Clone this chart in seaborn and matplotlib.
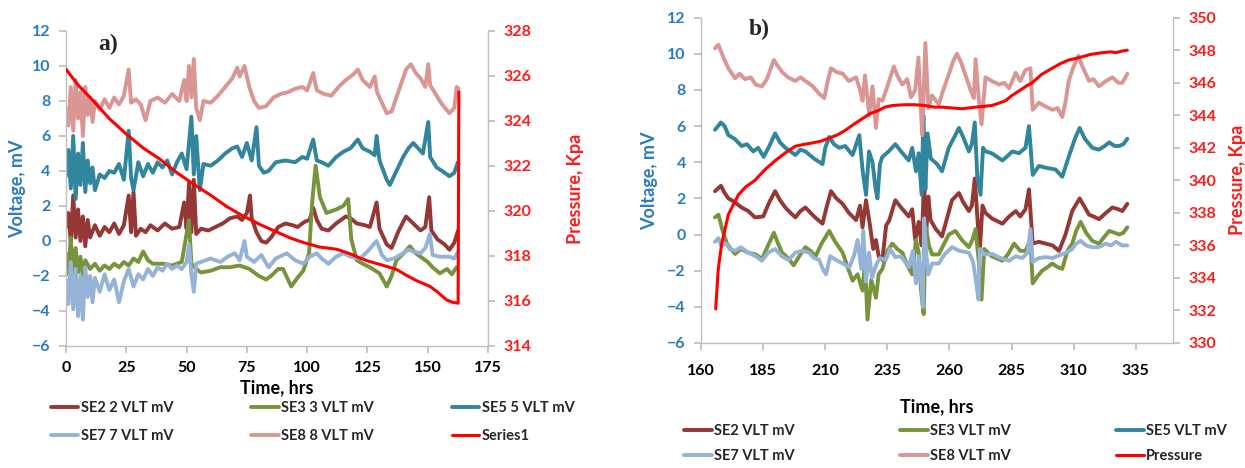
import numpy as np
import pandas as pd
import seaborn as sns
import matplotlib
matplotlib.use("Agg")
import matplotlib.pyplot as plt

# ---------------- Panel a) data ----------------
a_se8_t = [0,1,2,3,4,5,6,7,8,9,10,11,12,14,16,18,20,22,24,26,27,29,31,33,35,38,41,44,47,49,50,51,52,53,54,55.5,57,60,63,66,69,71,72,74,76,78,80,83,86,89,92,95,98,100,102.5,104,107,110,113,116,119,121,123,126,128,129,131,133,135,138,141,143,145,147,149,150.2,151,153.7,156,159,161,162,162.8]
a_se8_v = [7.6,6.6,8.8,6.3,9.2,7.0,8.5,6.0,8.8,7.2,8.2,6.8,8.0,7.5,8.1,7.6,8.2,7.8,8.3,9.8,7.9,8.1,7.8,6.9,8.0,8.2,7.9,8.4,8.0,9.2,8.0,10.0,8.2,10.4,7.6,6.9,8.0,7.9,8.3,8.8,9.3,9.9,9.4,10.0,8.8,8.0,7.6,7.7,8.2,8.4,8.5,8.7,8.8,8.6,9.6,8.6,8.4,8.3,8.8,9.2,9.5,9.8,9.2,8.8,9.4,8.5,7.9,7.3,7.4,8.6,9.8,10.1,9.6,9.3,8.8,10.1,8.9,8.3,7.8,7.3,7.6,8.8,8.7]

a_se5_t = [0,1,2,3,4,5,6,7,8,9,10,11,12,14,16,18,20,22,24,26,27,28,30,32,34,36,38,40,42,44,46,48,50,52,53,54,55.5,57,60,63,66,69,71,73,75,77,79,80,82,84,87,91,95,98,100,102.5,104,106,108.8,112,115,118,121,123,126,128,128.8,130,133,134.3,137,139.8,142,144,146,148,150.2,151,153.7,156,159,161,162.5,162.8]
a_se5_v = [3.7,5.2,3.0,6.0,2.4,5.0,3.2,5.6,2.8,4.6,3.3,4.2,2.9,3.8,3.6,4.0,3.9,4.4,3.5,6.3,3.6,2.9,4.5,3.7,4.4,3.9,4.5,4.2,4.6,3.8,4.5,5.0,4.1,7.1,3.8,6.0,2.9,4.4,4.3,4.6,5.0,5.3,5.4,4.8,5.6,4.6,6.5,4.3,3.9,4.0,4.5,4.6,4.5,4.8,4.7,5.8,4.6,4.5,4.3,4.8,5.1,5.3,5.8,5.3,5.1,4.9,6.0,4.6,3.5,3.2,4.0,4.8,5.3,5.6,5.3,5.0,6.8,4.8,4.2,4.0,3.7,3.9,4.5,4.4]

a_se2_t = [0,1,2,3,4,5,6,7,8,9,10,12,14,16,18,20,22,24,26,27,28,29,31,33,35,38,41,44,47,49,50,51,52,53,54,56,59,62,65,68,71,73,75,76.3,77,79,81,83,85,88,91,94,96,99,101,102.5,104,106,108.8,112,116,118,120.6,124,126,128.8,130,133,135,138,141,144,147,149,150.6,151.5,154,157,159,161,162.6]
a_se2_v = [0.8,1.6,-0.1,2.6,0.2,1.8,0.0,1.4,-0.3,1.2,0.2,0.9,0.3,0.8,0.5,1.0,0.4,0.9,2.6,0.5,2.8,0.3,0.7,0.5,0.9,0.6,1.0,0.7,0.8,2.2,0.7,3.3,0.5,3.5,0.4,0.7,0.6,0.8,1.0,1.3,1.4,1.2,1.6,2.6,1.3,0.5,0.0,-0.1,0.2,0.8,1.0,0.9,0.8,1.1,1.2,1.9,1.2,0.7,0.6,1.0,1.4,1.3,1.0,0.9,0.8,2.2,0.7,-0.2,-0.4,0.6,1.4,1.0,0.6,0.8,2.5,0.6,0.1,-0.2,-0.5,-0.1,0.6]

a_se3_t = [0,1,2,3,4,5,6,7,8,10,12,14,16,18,20,22,24,26,28,30,32,34,36,40,44,48,51,52,54,56,60,64,68,72,76,78,80,83,85,88,90,93.4,96,98.4,100.8,102,103.5,105.3,108,112,115,117,118.3,120.6,123,126,130,133,135,137,140,142.6,145,148,150,152,155,158,160,162]
a_se3_v = [-0.7,-1.9,0.2,-2.2,-0.4,-1.8,-0.9,-2.0,-1.1,-1.6,-1.3,-1.7,-1.4,-1.6,-1.3,-1.5,-1.2,-1.4,-1.0,-1.2,-0.6,-1.1,-1.3,-1.3,-1.4,-1.2,1.2,-1.3,-1.6,-1.8,-1.7,-1.5,-1.5,-1.4,-1.6,-1.8,-2.0,-2.2,-2.0,-1.6,-1.6,-2.6,-2.1,-1.7,-0.7,2.1,4.3,2.5,1.6,1.8,2.0,2.4,0.1,-1.1,-1.3,-1.5,-1.85,-2.6,-2.0,-1.1,-0.7,-0.3,-0.7,-1.0,-1.2,-1.5,-1.85,-1.6,-1.9,-1.5]

a_se7_t = [0,1,2,3,4,5,6,7,8,9,10,11,12,14,16,18,20,22,24,26,28,30,32,34,36,38,40,42,44,46,48,50,51,52,53,54,56,60,64,67,70,72,74,75,78,81,84,87,91.5,95,98.4,101,104,106,108.8,112,115,118,122,125,128.8,131,133,136,139.8,142,144,147,149,150.9,152,155,159,161,162.6]
a_se7_v = [-2.2,-3.6,-1.2,-3.9,-1.6,-4.3,-2.0,-4.5,-1.5,-3.2,-2.0,-3.5,-2.1,-2.9,-1.9,-2.8,-2.2,-3.5,-2.3,-1.6,-2.6,-1.9,-2.2,-1.6,-2.0,-1.5,-1.7,-1.3,-1.6,-1.4,-1.6,-1.2,-0.2,-1.9,-2.9,-1.3,-1.2,-1.0,-1.2,-0.9,-0.7,-1.1,0.0,-0.9,-1.2,-0.8,-1.5,-1.0,-0.7,-1.1,-1.3,-0.9,-0.7,-1.0,-1.3,-0.9,-0.7,-0.9,-1.0,-0.6,0.0,-0.8,-1.1,-1.0,-0.7,-0.5,-0.6,-0.7,-0.4,0.4,-0.8,-0.9,-0.9,-1.0,-0.6]

a_p_t = [0,5,11.3,18,25.2,32,39,46,52.8,60,66.6,73,80.4,84.6,88.8,93,98.4,105,112.2,115,117.8,122,126,131,137.1,141,145.4,150.9,154,157.8,160,162.6,162.9]
a_p_v = [326.3,325.6,324.9,324.1,323.4,322.8,322.3,321.7,321.2,320.7,320.2,319.8,319.4,319.2,319.0,318.8,318.6,318.4,318.3,318.2,318.1,317.9,317.75,317.6,317.4,317.15,316.9,316.65,316.4,316.05,315.95,315.9,325.3]

# ---------------- Panel b) data ----------------
b_se8_t = [165.6,167,169,171,173.7,175.5,177.7,180,182,184.5,186.5,189.3,191,192.6,195,198,200,202,205,207.5,209.6,211,212.3,214.5,217,219.5,222.4,224,225,226,227.7,229,230.4,231.5,233,235,237.6,239,241,243,244.5,246.2,247.5,249,250.3,251.5,253,255.7,257.5,259.7,261.5,263,264.5,266.5,268.5,269.8,270.5,271.8,272.9,274.5,277,280,282,284,286.7,288.5,290.6,292.6,293.5,296,298.5,301.4,303.5,305.4,306.8,308,310,311.9,313.5,316.2,318,320.2,323,325.6,328,329.6,331.6]
b_se8_v = [10.3,10.5,9.8,9.2,8.65,8.9,8.6,8.7,8.3,8.2,8.6,9.66,9.3,9.0,8.7,8.5,8.7,8.5,8.2,7.8,7.55,8.5,9.2,9.0,8.9,8.5,8.7,8.0,7.4,8.8,6.6,8.2,5.9,7.5,7.4,8.2,9.3,8.8,8.3,8.6,7.6,8.0,9.8,5.5,10.6,7.0,7.7,7.2,8.0,8.85,9.6,10.0,9.6,8.8,8.0,7.55,9.7,7.5,6.1,8.7,8.5,8.3,8.4,8.1,8.95,8.5,9.1,9.2,6.9,7.3,7.1,6.9,7.0,6.5,7.4,8.5,9.3,9.9,9.3,8.5,8.6,8.2,8.5,8.7,8.4,8.4,8.9]

b_se5_t = [165.6,168,169.5,171,173.5,176.3,178.5,181,183,185.2,187.5,189.8,191.8,193.9,196,198,200,202,205.5,208.9,210,211.6,213.5,215.6,218,221,223.7,225,226.4,227.6,229,230.2,231,232,233,235.5,238.2,240.5,243.6,245,246.5,247.6,248.8,249.5,250.3,251.2,252.5,255,257,259.7,262,263.8,265.5,267.8,269,270.2,271.2,272.5,273.5,274.5,277,281.3,283,285.3,288,290.6,292,293.5,296,298.7,302.7,305.4,308,310.5,312.4,314.5,317.5,320.2,322.5,324.3,326.5,328.3,330,331.6]
b_se5_v = [5.8,6.2,6.0,5.5,5.3,4.9,5.0,4.6,4.8,4.3,4.9,5.6,5.1,4.8,4.6,4.4,4.7,4.6,4.2,3.9,4.8,5.4,5.0,4.8,4.9,4.4,5.5,3.6,2.2,4.6,4.0,2.6,2.0,3.9,4.3,4.6,5.0,4.6,4.1,4.8,3.5,4.5,2.2,6.6,2.5,5.6,4.2,3.9,3.5,4.8,5.4,5.9,5.4,4.6,5.0,6.2,3.2,2.2,4.8,4.6,4.5,4.1,4.3,4.6,4.5,4.8,6.0,3.3,3.8,3.7,3.6,3.2,4.3,5.3,5.9,5.3,4.8,4.7,4.9,5.1,4.9,4.9,5.0,5.3]

b_se2_t = [165.6,168,169.5,171,173.5,176.3,179,181.7,185,187.5,189.8,191.8,193.9,196,198,200,202,205.5,208.9,210.5,212.3,214.5,217,219.5,222.4,224,225,226.4,228,229.3,230.4,231.5,233,234.5,235.8,238.2,240.5,243.6,245,246.2,247.6,248.8,249.8,250.5,251.5,252.4,254.5,257,259,261,263.8,265.5,267.8,269,270.2,271.3,272.2,273.3,274.5,277,281.3,284,286.7,288.5,290.6,292,293.5,296,298.7,301.5,304.1,306.7,309.4,312.4,314.5,316.2,318,320.2,323,325.6,328,329.6,331.6]
b_se2_v = [2.4,2.7,2.3,2.0,1.8,1.5,1.3,0.95,1.0,1.8,2.4,1.9,1.5,1.2,0.95,1.3,1.5,1.0,0.6,1.5,2.4,2.0,1.7,1.2,0.8,1.6,0.4,1.9,0.5,-0.8,-0.3,-1.2,-1.4,0.5,0.8,1.9,1.5,1.0,1.4,-0.3,0.7,-0.6,3.1,-0.3,2.1,0.8,0.3,-0.1,0.9,1.9,2.3,1.8,1.3,1.6,3.1,0.8,-0.9,1.6,1.2,0.9,0.6,1.0,1.3,1.0,1.4,2.5,-0.5,-0.4,-0.5,-0.6,-0.9,0.0,1.3,2.0,1.5,1.1,1.0,0.85,1.2,1.5,1.4,1.3,1.7]

b_se3_t = [165.6,167,168.5,170.4,172,173.7,176,179,182,184.5,187,189.3,191,192.6,195,197.3,199.5,202,204,206.1,208.5,211.6,214,217,219,221,223,225,226,227,228.5,230.4,231.5,233,235,237,239,241,243,245,246.5,247.6,248.5,249.6,250.5,251.7,253,255.7,257.5,259.7,262.4,265,267.8,269.2,270.5,271.8,272.9,274,277,281.3,283.5,286,288.5,290.6,292.6,293.5,295.5,297.3,299.5,301.4,303.5,305.4,307.5,309.4,311,312.8,315,317.5,320.2,322.5,324.3,326.5,328.3,330,331.6]
b_se3_v = [0.95,1.1,0.3,-0.5,-0.8,-1.07,-0.8,-1.0,-1.1,-1.35,-0.6,0.1,-0.5,-1.0,-1.3,-1.7,-1.2,-0.7,-0.9,-1.2,-0.5,0.2,-0.4,-1.0,-1.8,-2.55,-2.2,-3.1,-1.5,-4.7,-2.5,-3.5,-2.2,-1.9,-0.9,-0.5,-0.8,-1.0,-1.7,-2.2,-0.3,-1.0,-3.0,-4.4,0.4,-0.6,-1.1,-1.1,-0.6,0.0,0.2,-0.3,-0.7,-0.3,0.3,-1.5,-3.6,-0.8,-1.2,-1.45,-1.1,-0.5,-0.9,-0.9,-0.3,-2.7,-2.3,-2.0,-1.8,-1.6,-1.8,-1.9,-0.9,-0.5,0.2,0.7,0.1,-0.35,-0.5,-0.1,0.2,0.1,0.0,0.1,0.4]

b_se7_t = [165.6,167,168,170,171.5,173.7,176,179,182,184.5,187,189.8,192.5,195.2,198,200.6,203.5,205.5,207.5,209,210.3,212,214.3,217,219.7,221.5,223,224.5,225.3,226.4,227.6,228.8,230.4,232,234.4,236,238.2,240.5,243.6,245.3,246.5,247.6,248.5,249.3,249.8,250.6,251.5,253,255.7,258,261,264,267.8,269.5,271,271.7,272.2,274,277.2,280.5,284,286.7,289.3,291.5,292.6,293.5,296,298.7,301.5,304.1,307,309.4,311,312.8,315,317.5,320,322.9,325,327,329.5,331.6]
b_se7_v = [-0.4,-0.2,-0.6,-0.5,-0.8,-0.9,-0.7,-1.0,-1.2,-1.45,-1.0,-0.8,-1.2,-1.4,-1.0,-0.9,-1.0,-1.3,-1.4,-1.9,-2.2,-1.2,-1.4,-1.6,-1.8,-1.2,-0.3,-1.9,0.2,-2.6,-1.0,-2.4,-1.7,-1.3,-1.4,-0.8,-1.25,-1.2,-1.8,-0.9,-2.7,-1.2,-2.3,-4.0,0.9,-1.0,-2.2,-1.6,-1.6,-1.1,-0.7,-0.9,-1.0,-1.5,-2.9,-3.6,-0.8,-1.1,-1.07,-1.3,-1.45,-1.2,-1.3,-1.0,0.3,-1.5,-1.3,-1.25,-1.3,-1.15,-1.0,-0.8,-0.5,-0.35,-0.6,-0.7,-0.7,-0.5,-0.6,-0.4,-0.6,-0.6]

b_p_t = [165.9,166.9,168.3,171,175,178,181.7,186,189.8,194,198,201,204.8,208,211.6,215,218.3,222,225,228,231.5,234,237,242,246,250,254,257,261,265,270.5,274,277,280,282.6,285,288,291,293.3,297,301.4,305,308,311,313.5,317,321.6,325,327,329.5,331.6]
b_p_v = [332.1,334.5,336.1,337.9,339.1,339.6,340.0,340.7,341.2,341.7,342.1,342.2,342.3,342.4,342.6,342.8,343.1,343.5,343.8,344.1,344.3,344.5,344.6,344.65,344.65,344.6,344.5,344.5,344.45,344.4,344.5,344.55,344.6,344.75,344.9,345.2,345.5,345.8,346.0,346.5,346.9,347.2,347.4,347.5,347.6,347.75,347.85,347.9,347.85,347.95,348.0]

a_labels = ["SE2 2 VLT mV", "SE3 3 VLT mV", "SE5 5 VLT mV", "SE7 7 VLT mV", "SE8 8 VLT mV", "Series1"]
b_labels = ["SE2 VLT mV", "SE3 VLT mV", "SE5 VLT mV", "SE7 VLT mV", "SE8 VLT mV", "Pressure"]
a_xticks = [0, 25, 50, 75, 100, 125, 150, 175]
b_xticks = [160, 185, 210, 235, 260, 285, 310, 335]

# ---------------- styling ----------------
sns.set_theme(style="white")
plt.rcParams['font.family'] = ['Lato', 'DejaVu Sans']
plt.rcParams['font.weight'] = 'bold'

C_SE2 = "#953735"
C_SE3 = "#77933C"
C_SE5 = "#31859C"
C_SE7 = "#95B3D7"
C_SE8 = "#D99694"
C_P = "#FF0000"
BLUE = "#2A7BC0"
RED = "#FF1A1A"
GRAY = "#BFBFBF"

fig = plt.figure(figsize=(12.45, 4.68), dpi=100)
axA = fig.add_axes([0.0530, 0.2607, 0.3390, 0.6731])
axB = fig.add_axes([0.5631, 0.2671, 0.3791, 0.6951])

LW = 2.8


def draw(ax, series, p_t, p_v, labels, xlim, xticks, ylim2, yticks2, vlab_x, plab_x,
         xlab_y, leg_box, lspace, xpad):
    handles = []
    for (t, v, c), lab in zip(series, labels[:5]):
        sns.lineplot(x=t, y=v, ax=ax, color=c, linewidth=LW, sort=False,
                     estimator=None, label=lab, legend=False)
        handles.append(ax.lines[-1])
    ax2 = ax.twinx()
    sns.lineplot(x=p_t, y=p_v, ax=ax2, color=C_P, linewidth=2.2, sort=False,
                 estimator=None, legend=False)
    handles.append(ax2.lines[-1])

    ax.set_xlim(*xlim)
    ax.set_ylim(-6, 12)
    ax.set_yticks(range(-6, 13, 2))
    ax.set_xticks(xticks)
    ax2.set_ylim(*ylim2)
    ax2.set_yticks(yticks2)

    for a in (ax, ax2):
        a.spines['top'].set_visible(False)
        for s in ('left', 'right', 'bottom'):
            a.spines[s].set_color(GRAY)
            a.spines[s].set_linewidth(1.0)
        a.grid(False)
    ax.spines['right'].set_visible(False)
    ax2.spines['left'].set_visible(False)
    ax2.spines['bottom'].set_visible(False)

    ax.tick_params(axis='y', direction='out', length=5, color=GRAY, labelcolor=BLUE,
                   labelsize=11.5, left=True, pad=6)
    ax.tick_params(axis='x', direction='out', length=5, color=GRAY, labelcolor='black',
                   labelsize=11.5, bottom=True, pad=xpad)
    ax2.tick_params(axis='y', direction='out', length=5, color=GRAY, labelcolor=RED,
                    labelsize=11.5, right=True, pad=6)
    for lab in ax.get_xticklabels() + ax.get_yticklabels() + ax2.get_yticklabels():
        lab.set_fontweight('bold')

    ax.set_xlabel("Time, hrs", fontsize=13, fontweight='bold', color='black')
    ax.xaxis.set_label_coords(0.5, xlab_y)
    ax.set_ylabel("Voltage, mV", fontsize=13, fontweight='bold', color=BLUE)
    ax.yaxis.set_label_coords(vlab_x, 0.5)
    ax2.set_ylabel("Pressure, Kpa", fontsize=13, fontweight='bold', color=RED)
    ax2.yaxis.set_label_coords(plab_x, 0.5)

    order = [0, 3, 1, 4, 2, 5]
    fig.legend([handles[i] for i in order], [labels[i] for i in order],
               loc='upper left', bbox_to_anchor=leg_box, bbox_transform=fig.transFigure,
               mode='expand', ncol=3, frameon=False,
               handlelength=1.9, handletextpad=0.15, labelspacing=lspace,
               borderaxespad=0, prop={'weight': 'bold', 'size': 10.5})
    return ax2


draw(axA,
     [(a_se2_t, a_se2_v, C_SE2), (a_se3_t, a_se3_v, C_SE3), (a_se5_t, a_se5_v, C_SE5),
      (a_se7_t, a_se7_v, C_SE7), (a_se8_t, a_se8_v, C_SE8)],
     a_p_t, a_p_v, a_labels, (0, 175), a_xticks, (314, 328), range(314, 329, 2),
     -0.095, 1.187, -0.105, (0.036, 0.056, 0.43, 0.1), 0.95, 6)

draw(axB,
     [(b_se2_t, b_se2_v, C_SE2), (b_se3_t, b_se3_v, C_SE3), (b_se5_t, b_se5_v, C_SE5),
      (b_se7_t, b_se7_v, C_SE7), (b_se8_t, b_se8_v, C_SE8)],
     b_p_t, b_p_v, b_labels, (160, 350), b_xticks, (330, 350), range(330, 351, 2),
     -0.091, 1.119, -0.169, (0.545, 0.007, 0.445, 0.1), 0.8, 10)

fig.text(0.079, 0.905, "a)", fontsize=17, fontweight='bold', family='Liberation Serif',
         ha='left', va='center')
fig.text(0.601, 0.937, "b)", fontsize=17, fontweight='bold', family='Liberation Serif',
         ha='left', va='center')

fig.savefig("out.png", dpi=100)
